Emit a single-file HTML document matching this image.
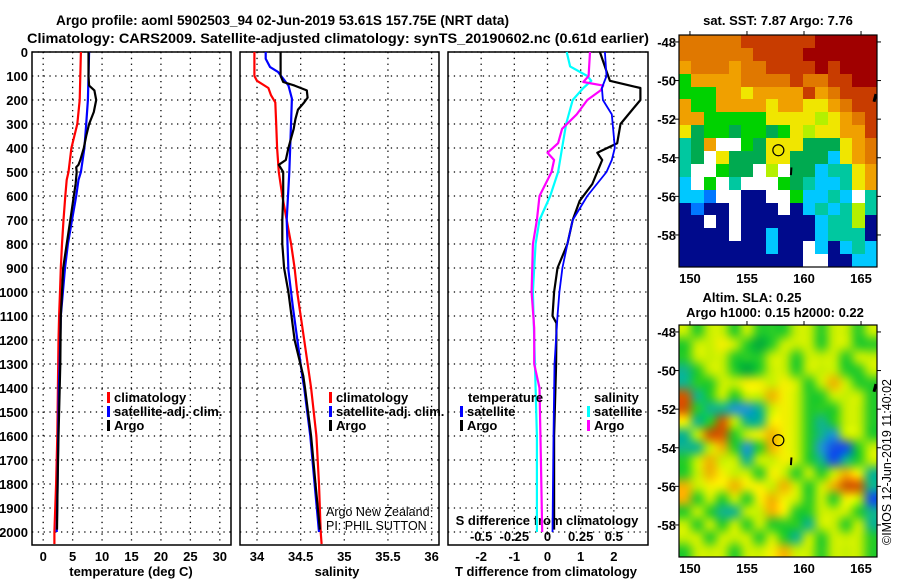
<!DOCTYPE html>
<html><head><meta charset="utf-8">
<style>
html,body{margin:0;padding:0;background:#fff;}
#wrap{position:relative;width:900px;height:580px;overflow:hidden;font-family:"Liberation Sans",Arial,sans-serif;}
svg text{font-family:"Liberation Sans",Arial,sans-serif;}
canvas{position:absolute;}
</style></head>
<body>
<div id="wrap">
<canvas id="map1" width="198" height="232" style="left:679px;top:35px;width:198px;height:232px;image-rendering:pixelated"></canvas>
<canvas id="map2" width="198" height="232" style="left:679px;top:325px;width:198px;height:232px"></canvas>
<svg id="svg" width="900" height="580" style="position:absolute;left:0;top:0" xmlns="http://www.w3.org/2000/svg">
<text x="56" y="25" textLength="453" lengthAdjust="spacingAndGlyphs" font-size="14" font-weight="bold">Argo profile: aoml 5902503_94 02-Jun-2019 53.61S 157.75E (NRT data)</text>
<text x="27" y="43" textLength="622" lengthAdjust="spacingAndGlyphs" font-size="14" font-weight="bold">Climatology: CARS2009. Satellite-adjusted climatology: synTS_20190602.nc (0.61d earlier)</text>
</svg>
</div>
<script>
// ---- data ----
const tempClimP=[0,100,200,300,400,500,533,600,700,800,900,1000,1100,1200,1300,1400,1600,1800,2000,2050];
const tempClimT=[6.4,6.3,6.2,5.8,4.8,4.3,4.0,3.75,3.45,3.2,3.0,2.85,2.7,2.6,2.55,2.5,2.4,2.2,1.9,1.9];
const tempSatP=[0,100,200,300,400,500,533,600,700,800,900,1000,1100,1200,1300,1400,1600,1800,2000];
const tempSatT=[7.8,7.7,7.6,7.3,7.0,6.4,6.0,5.6,4.9,4.2,3.7,3.35,3.0,2.9,2.8,2.65,2.55,2.45,2.3];
const tempArgoP=[0,100,140,160,200,250,300,350,400,450,470,480,500,550,600,700,800,900,1000,1100,1300,1400,1600,1800,1990];
const tempArgoT=[7.7,7.7,7.8,8.7,9.0,8.6,7.8,7.3,6.9,6.3,6.0,5.6,5.7,5.5,5.2,4.6,4.0,3.4,3.2,3.0,2.9,2.8,2.6,2.45,2.35];
const salClimP=[0,100,120,150,180,210,300,400,500,600,700,800,900,1000,1100,1200,1350,1400,1600,1800,2000,2050];
const salClimS=[33.97,33.97,34.00,34.13,34.16,34.21,34.22,34.23,34.25,34.29,34.34,34.39,34.43,34.46,34.50,34.54,34.60,34.62,34.68,34.71,34.73,34.74];
const salSatP=[0,28,63,83,139,194,292,500,700,908,1060,1354,1400,1600,1800,2000];
const salSatS=[34.10,34.10,34.15,34.24,34.36,34.40,34.39,34.37,34.34,34.36,34.41,34.52,34.54,34.61,34.66,34.71];
const salArgoP=[0,100,125,140,160,190,210,240,280,320,400,450,470,500,600,700,800,900,1000,1200,1350,1400,1600,1800,1990];
const salArgoS=[34.27,34.27,34.30,34.43,34.57,34.58,34.54,34.47,34.44,34.42,34.36,34.33,34.25,34.30,34.30,34.29,34.29,34.31,34.36,34.43,34.53,34.55,34.62,34.67,34.72];
const dTsatP=[0,100,150,200,260,350,400,450,500,600,700,800,900,1000,1100,1300,1600,2000];
const dTsat=[1.73,1.78,1.64,1.67,1.94,2.0,2.03,1.94,1.78,1.2,0.76,0.6,0.45,0.36,0.3,0.21,0.18,0.15];
const dTargoP=[0,80,120,150,200,250,300,380,420,450,550,620,700,800,900,1000,1100,1130,1300,1600,1990];
const dTargo=[1.58,1.78,1.88,2.8,2.8,2.5,2.2,2.1,1.5,1.65,1.35,0.97,0.76,0.6,0.3,0.2,0.15,0.27,0.26,0.2,0.2];
const dSsatP=[0,60,100,120,150,200,300,400,500,600,700,800,900,1000,1400,1600,2000];
const dSsat=[0.145,0.17,0.30,0.33,0.27,0.19,0.14,0.11,0.08,0.02,-0.06,-0.09,-0.10,-0.11,-0.09,-0.08,-0.08];
const dSargoP=[0,100,125,140,160,200,260,320,380,420,450,500,600,700,800,1000,1150,1300,1400,1700,2000];
const dSargo=[0.32,0.31,0.27,0.42,0.40,0.30,0.22,0.11,0.08,0.0,0.05,0.03,-0.06,-0.08,-0.11,-0.12,-0.10,-0.10,-0.06,-0.05,-0.04];
const depthTicks=[0,100,200,300,400,500,600,700,800,900,1000,1100,1200,1300,1400,1500,1600,1700,1800,1900,2000];
const tempTicks=[0,5,10,15,20,25,30];
const salTicks=[34,34.5,35,35.5,36];
const salTickLabels=["34","34.5","35","35.5","36"];
const dTTicks=[-2,-1,0,1,2];
const dSTicks=[-0.5,-0.25,0,0.25,0.5];
const dSTickLabels=["-0.5","-0.25","0","0.25","0.5"];
const lonTicks=[150,155,160,165];
const latTicks=[-48,-50,-52,-54,-56,-58];
const argoLon=157.75, argoLat=-53.61;
const sstGrid=[
"ooooorrrrrrRRRRR","oooooorrrrRRRRRR","OoooOoorrrrRrRRR","gOOOOooooroorrRR",
"gggOOyOOOOrOorrr","OggOOOOyOOyyOorr","OOgggggyyyyYyOor","yGggGggGgyYyyOOr",
"tGOwwgGyyyGGGyOo","tGwyGGGyyGGGcyOo","twwgGGwYwGGcttyO","cwgwtwwwgGtcctyO",
"ccbwwBBwwgcctcwt","BbBBwBBBwBctctYt","BBwBwBBBBBBcttYB","BBBBwBBcBBBctttB",
"BBBBBBBcBBwcBctc","BBBBBBBBBBwwBBcc"];
const slaGrid=[
"YgYYgYgggYYgYYgY","gYYyYgGgYYYgYYgg","gYYYgggYYgYYYgYY","tgYYgGgYYgYYYggY",
"tggYYyyYyYgYoYgg","OtgYgYYoyYggYYYg","OgttcctYyYgggYYg","ytgOYttyyYgtgYYg",
"tYOOgYyoyYgtcYYg","ttYogcgoyYgcbbgY","gYoYYtYYyYgtbtgY","gYoyYYgyYgYgYoyt",
"oYyyoyyYoYgYoOOt","ogYgYgyoyYgYgyYb","gYgttYYoyggYYYgt","YgYgYgYgggtYYgYt",
"YYgYYYgYgtYgYYYg","gYYYgYYyoYYgYYYg"];

const svg=document.getElementById('svg');
const NS='http://www.w3.org/2000/svg';
function mk(tag,attrs,parent){const e=document.createElementNS(NS,tag);for(const k in attrs)e.setAttribute(k,attrs[k]);(parent||svg).appendChild(e);return e;}
function txt(x,y,s,opts,parent){const e=mk('text',Object.assign({x:x,y:y,'font-size':12,'font-weight':'bold'},opts||{}),parent);e.textContent=s;return e;}

const yTop=52, pxPer=0.24;
function yP(p){return yTop+p*pxPer;}
const yBot=545;
const panels=[
 {name:'temperature',x0:32,x1:231,d0:-1.9,d1:31.9},
 {name:'salinity',x0:240,x1:439,d0:33.805,d1:36.085},
 {name:'difference',x0:448,x1:648,d0:-3.0,d1:3.03}
];
function sx(pn,v){return pn.x0+(v-pn.d0)/(pn.d1-pn.d0)*(pn.x1-pn.x0);}
function dSx(v){return sx(panels[2],v*4);}

panels.forEach((pn,i)=>{
 const g=mk('g',{});
 
 
 const ticks=i==0?tempTicks:(i==1?salTicks:dTTicks);
 depthTicks.forEach(p=>{const l=mk('line',{x1:pn.x0,x2:pn.x1,y1:yP(p),y2:yP(p),stroke:'#000','stroke-width':1.3,'stroke-dasharray':'1.3 4.5'},g);
  });
 ticks.forEach(t=>{const x=sx(pn,t);const l=mk('line',{x1:x,x2:x,y1:yTop,y2:yBot,stroke:'#000','stroke-width':1.3,'stroke-dasharray':'1.3 4.5'},g);
  });
 const r=mk('rect',{x:pn.x0,y:yTop,width:pn.x1-pn.x0,height:yBot-yTop,fill:'none',stroke:'#000','stroke-width':1.5},g);
 
});
depthTicks.forEach(p=>{const t=txt(28,yP(p)+5,String(p),{'text-anchor':'end','font-size':13});
 });
tempTicks.forEach(v=>{const t=txt(sx(panels[0],v),561,String(v),{'text-anchor':'middle','font-size':13});
 });
salTicks.forEach((v,i)=>{const t=txt(sx(panels[1],v),561,salTickLabels[i],{'text-anchor':'middle','font-size':13});
 });
dTTicks.forEach(v=>{const t=txt(sx(panels[2],v),561,String(v),{'text-anchor':'middle','font-size':13});
 });
dSTicks.forEach((v,i)=>{const t=txt(dSx(v),541,dSTickLabels[i],{'text-anchor':'middle','font-size':13});
 });
let t;
t=txt(131,576,'temperature (deg C)',{'text-anchor':'middle','font-size':13});
t=txt(337,576,'salinity',{'text-anchor':'middle','font-size':13});
t=txt(546,576,'T difference from climatology',{'text-anchor':'middle','font-size':13});
t=txt(547,525,'S difference from climatology',{'text-anchor':'middle','font-size':13});

function line(ps,vs,fx,color,name,w){
 const pts=ps.map((p,i)=>fx(vs[i]).toFixed(1)+','+yP(p).toFixed(1)).join(' ');
 const l=mk('polyline',{points:pts,fill:'none',stroke:color,'stroke-width':w||2.2,'stroke-linejoin':'round'});
 
}
line(tempClimP,tempClimT,v=>sx(panels[0],v),'#ff0000','temp-climatology-line');
line(tempSatP,tempSatT,v=>sx(panels[0],v),'#0000ff','temp-satellite-line');
line(tempArgoP,tempArgoT,v=>sx(panels[0],v),'#000000','temp-argo-line');
line(salClimP,salClimS,v=>sx(panels[1],v),'#ff0000','sal-climatology-line');
line(salSatP,salSatS,v=>sx(panels[1],v),'#0000ff','sal-satellite-line');
line(salArgoP,salArgoS,v=>sx(panels[1],v),'#000000','sal-argo-line');
line(dSsatP,dSsat,dSx,'#00ffff','dS-satellite-line');
line(dSargoP,dSargo,dSx,'#ff00ff','dS-argo-line');
line(dTargoP,dTargo,v=>sx(panels[2],v),'#000000','dT-argo-line');
line(dTsatP,dTsat,v=>sx(panels[2],v),'#0000ff','dT-satellite-line',1.8);

function legend(x,y,color,label,name){
 const g=mk('g',{});
 mk('rect',{x:x,y:y-10,width:3,height:11,fill:color},g);
 txt(x+7,y,label,{'font-size':13},g);
}
legend(107,402,'#ff0000','climatology','legend-temp-climatology');
legend(107,416,'#0000ff','satellite-adj. clim.','legend-temp-satellite');
legend(107,430,'#000000','Argo','legend-temp-argo');
legend(329,402,'#ff0000','climatology','legend-sal-climatology');
legend(329,416,'#0000ff','satellite-adj. clim.','legend-sal-satellite');
legend(329,430,'#000000','Argo','legend-sal-argo');
t=txt(468,402,'temperature',{'font-size':13});
t=txt(594,402,'salinity',{'font-size':13});
legend(460,416,'#0000ff','satellite','legend-dT-satellite');
legend(460,430,'#000000','Argo','legend-dT-argo');
legend(587,416,'#00ffff','satellite','legend-dS-satellite');
legend(587,430,'#ff00ff','Argo','legend-dS-argo');
t=txt(326,516,'Argo New Zealand',{'font-weight':'normal','font-size':12.5});
t=txt(326,530,'PI: PHIL SUTTON',{'font-weight':'normal','font-size':12.5});

// ---- maps ----
const mapX0=679,mapX1=877,lon0=149.04,lon1=166.4,lat0=-47.64,lat1=-59.66;
function mx(lon){return mapX0+(lon-lon0)/(lon1-lon0)*(mapX1-mapX0);}
const sstCol={R:'#a00000',r:'#c83c00',o:'#e07800',O:'#f0a000',y:'#f0e600',Y:'#b4f000',g:'#00d200',G:'#00aa50',t:'#00c8a0',c:'#00c8ff',b:'#0078ff',B:'#000a8c',w:'#ffffff'};
const slaCol={g:'#28cc28',G:'#00aa3c',Y:'#c8f000',y:'#f5f000',o:'#f0b400',O:'#d05a00',t:'#10b48c',c:'#1e96d2',b:'#1450e6'};
function drawMap(id,grid,cols,smooth){
 const c=document.getElementById(id),ctx=c.getContext('2d');
 const nr=grid.length,nc=grid[0].length;
 const sm=document.createElement('canvas');sm.width=nc;sm.height=nr;const sc=sm.getContext('2d');
 grid.forEach((row,r)=>{for(let k=0;k<nc;k++){sc.fillStyle=cols[row[k]];sc.fillRect(k,r,1,1);}});
 ctx.imageSmoothingEnabled=smooth;
 if(smooth)ctx.imageSmoothingQuality='high';
 ctx.drawImage(sm,0,0,c.width,c.height);
}
drawMap('map1',sstGrid,sstCol,false);
drawMap('map2',slaGrid,slaCol,true);
[[35,'sst'],[325,'sla']].forEach(([top,nm])=>{
 const my=lat=>top+(lat-lat0)/(lat1-lat0)*232;
 const g=mk('g',{});
 mk('rect',{x:mapX0,y:top,width:198,height:232,fill:'none',stroke:'#000','stroke-width':1.2},g);
 lonTicks.forEach(l=>{mk('line',{x1:mx(l),x2:mx(l),y1:top,y2:top-4,stroke:'#000'},g);
  const tl=txt(mx(l),top+248,String(l),{'text-anchor':'middle','font-size':13},g);});
 latTicks.forEach(l=>{mk('line',{x1:mapX0,x2:mapX0-4,y1:my(l),y2:my(l),stroke:'#000'},g);
  mk('line',{x1:mapX1,x2:mapX1+4,y1:my(l),y2:my(l),stroke:'#000'},g);
  const tl=txt(676,my(l)+5,String(l),{'text-anchor':'end','font-size':13},g);});
 const m=mk('circle',{cx:mx(argoLon),cy:my(argoLat),r:5.5,fill:nm=='sst'?'#f0e600':'none',stroke:'#000','stroke-width':1.2},g);
 
 mk('line',{x1:mx(158.9),x2:mx(158.85),y1:my(-54.5),y2:my(-54.9),stroke:'#000','stroke-width':2},g);
 mk('line',{x1:mapX1-1,x2:mapX1-3,y1:my(-50.7),y2:my(-51.1),stroke:'#000','stroke-width':3},g);
});
t=txt(778,25,'sat. SST: 7.87 Argo: 7.76',{'text-anchor':'middle','font-size':13});
t=txt(752,302,'Altim. SLA: 0.25',{'text-anchor':'middle','font-size':13});
t=txt(775,317,'Argo h1000: 0.15 h2000: 0.22',{'text-anchor':'middle','font-size':13});
t=txt(0,0,'©IMOS 12-Jun-2019 11:40:02',{'text-anchor':'middle','font-weight':'normal','font-size':12.5,transform:'translate(891,462) rotate(-90)'});

</script>
</body></html>
